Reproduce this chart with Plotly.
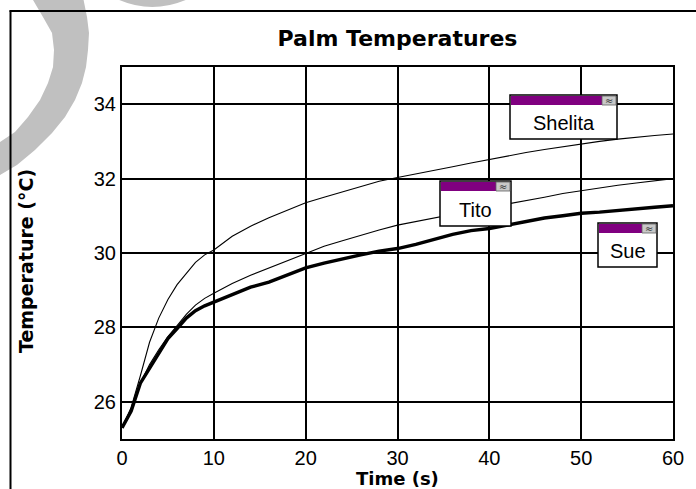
import plotly.graph_objects as go

# ---------------- data ----------------
time_s = [0, 1, 2, 3, 4, 5, 6, 7, 8, 9, 10, 12, 14, 16, 18, 20, 22, 24, 26, 28,
          30, 32, 34, 36, 38, 40, 42, 44, 46, 48, 50, 52, 54, 56, 58, 60]
shelita = [25.3, 25.85, 26.7, 27.6, 28.25, 28.75, 29.15, 29.45, 29.75, 29.95, 30.08,
           30.45, 30.72, 30.95, 31.15, 31.35, 31.5, 31.65, 31.8, 31.93, 32.03,
           32.12, 32.22, 32.32, 32.42, 32.52, 32.6, 32.7, 32.78, 32.86, 32.94,
           33.0, 33.06, 33.12, 33.16, 33.2]
tito = [25.3, 25.8, 26.5, 27.0, 27.4, 27.75, 28.05, 28.35, 28.6, 28.78, 28.92,
        29.18, 29.4, 29.6, 29.8, 30.0, 30.18, 30.33, 30.48, 30.62, 30.75,
        30.85, 30.95, 31.05, 31.15, 31.23, 31.32, 31.4, 31.5, 31.6, 31.68,
        31.75, 31.82, 31.88, 31.95, 32.0]
sue = [25.3, 25.75, 26.5, 26.9, 27.3, 27.7, 27.97, 28.25, 28.45, 28.58, 28.68,
       28.88, 29.08, 29.22, 29.4, 29.6, 29.73, 29.85, 29.95, 30.05, 30.12,
       30.23, 30.37, 30.5, 30.6, 30.66, 30.75, 30.85, 30.94, 31.0, 31.07,
       31.1, 31.15, 31.2, 31.23, 31.27]
series_names = ["Shelita", "Tito", "Sue"]
x_ticks = [0, 10, 20, 30, 40, 50, 60]
y_ticks = [26, 28, 30, 32, 34]

# ---------------- layout geometry (pixels) ----------------
W, H = 696, 489
L, R, T, B = 122, 673, 67, 439
PW, PH = R - L, B - T

def px(x):  # pixel x -> paper
    return (x - L) / PW

def py(y):  # pixel y -> paper
    return (B - y) / PH

fig = go.Figure()
styles = {"Shelita": 1.1, "Tito": 1.1, "Sue": 3.4}
for name, vals in zip(series_names, [shelita, tito, sue]):
    fig.add_trace(go.Scatter(x=time_s, y=vals, mode="lines", name=name,
                             line=dict(color="black", width=styles[name]),
                             showlegend=False, hoverinfo="skip"))

shapes = []
# gray watermark ring (decoration)
inner = [(33, 0), (43, 17), (52, 33), (54, 50), (53, 67), (48, 83), (40, 100),
         (28, 117), (15, 132), (0, 142), (-6, 146)]
outer = [(83, -3), (87, 17), (89, 33), (88, 50), (86, 67), (82, 83), (75, 100),
         (65, 117), (52, 133), (35, 150), (17, 165), (0, 175), (-6, 179)]
pts = outer + inner[::-1] + [(30, -3)]
path = "M " + " L ".join(f"{px(a):.4f},{py(b):.4f}" for a, b in pts) + " Z"
shapes.append(dict(type="path", xref="paper", yref="paper", path=path,
                   fillcolor="#c0c0c0", line=dict(width=0), layer="above"))
path2 = (f"M {px(117):.4f},{py(-1):.4f} Q {px(152):.4f},{py(15):.4f} "
         f"{px(188):.4f},{py(-1):.4f} Z")
shapes.append(dict(type="path", xref="paper", yref="paper", path=path2,
                   fillcolor="#c0c0c0", line=dict(width=0), layer="above"))
# outer frame lines
shapes.append(dict(type="line", xref="paper", yref="paper",
                   x0=px(10.5), x1=px(10.5), y0=py(10.5), y1=py(495),
                   line=dict(color="black", width=2)))
shapes.append(dict(type="line", xref="paper", yref="paper",
                   x0=px(9.5), x1=px(700), y0=py(11), y1=py(11),
                   line=dict(color="black", width=2)))

annotations = []
# label boxes: (text, left, top, right, bottom)
boxes = [("Shelita", 510, 95, 617, 139), ("Tito", 440, 181, 511, 226),
         ("Sue", 598, 223, 657, 267)]
for text, x0, y0, x1, y1 in boxes:
    shapes.append(dict(type="rect", xref="paper", yref="paper",
                       x0=px(x0), x1=px(x1), y0=py(y0), y1=py(y1),
                       fillcolor="white", line=dict(color="black", width=1.5),
                       layer="above"))
    shapes.append(dict(type="rect", xref="paper", yref="paper",
                       x0=px(x0 + 1), x1=px(x1 - 15), y0=py(y0 + 1), y1=py(y0 + 10),
                       fillcolor="#800080", line=dict(width=0), layer="above"))
    shapes.append(dict(type="rect", xref="paper", yref="paper",
                       x0=px(x1 - 15), x1=px(x1 - 1), y0=py(y0 + 1), y1=py(y0 + 10),
                       fillcolor="#c8c8c8", line=dict(color="#606060", width=0.8),
                       layer="above"))
    annotations.append(dict(xref="paper", yref="paper", x=px(x1 - 8), y=py(y0 + 5.5),
                            xanchor="center", yanchor="middle",
                            text="≈", showarrow=False,
                            font=dict(family="DejaVu Sans", size=10, color="#303030")))
    annotations.append(dict(xref="paper", yref="paper",
                            x=px((x0 + x1) / 2), y=py((y0 + 10 + y1) / 2 + 1),
                            xanchor="center", yanchor="middle",
                            text=text, showarrow=False,
                            font=dict(family="Liberation Sans", size=20, color="black")))

# axis titles
annotations.append(dict(xref="paper", yref="paper", x=px((L + R) / 2), y=py(479),
                        xanchor="center", yanchor="middle",
                        text="Time (s)", showarrow=False,
                        font=dict(family="DejaVu Sans", size=18, color="black",
                                  weight="bold")))
annotations.append(dict(xref="paper", yref="paper", x=px(26), y=py(261),
                        xanchor="center", yanchor="middle",
                        text="Temperature (°C)", textangle=-90, showarrow=False,
                        font=dict(family="DejaVu Sans", size=19, color="black",
                                  weight="bold")))

fig.update_layout(
    width=W, height=H,
    margin=dict(l=L, r=W - R, t=T, b=H - B),
    paper_bgcolor="white", plot_bgcolor="white",
    title=dict(text="Palm Temperatures", x=px((L + R) / 2), xref="paper",
               xanchor="center", y=1 - 38 / H, yref="container", yanchor="middle",
               font=dict(family="DejaVu Sans", size=22, color="black", weight="bold")),
    shapes=shapes, annotations=annotations,
)
fig.update_xaxes(range=[0, 60], tickvals=x_ticks, ticks="", showgrid=True,
                 gridcolor="black", gridwidth=1.6, zeroline=False,
                 showline=True, linecolor="black", linewidth=2, mirror=True,
                 tickfont=dict(family="Liberation Sans", size=20, color="black"))
fig.update_yaxes(range=[25, 35], tickvals=y_ticks, ticks="", showgrid=True,
                 gridcolor="black", gridwidth=1.6, zeroline=False,
                 showline=True, linecolor="black", linewidth=2, mirror=True,
                 tickfont=dict(family="Liberation Sans", size=20, color="black"))

fig.write_html("out.html",
               config={"displayModeBar": False},
               post_script="document.body.style.margin='0';"
                           "document.body.style.overflow='hidden';")
